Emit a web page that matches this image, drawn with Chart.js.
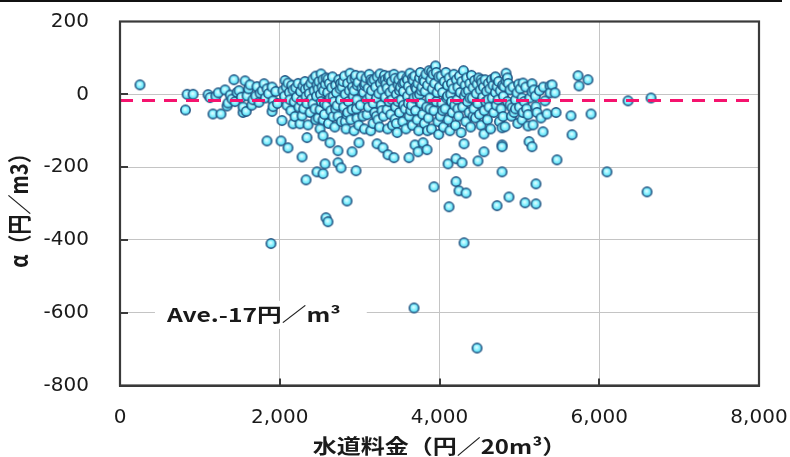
<!DOCTYPE html>
<html>
<head>
<meta charset="utf-8">
<script src="https://cdn.jsdelivr.net/npm/chart.js@4.4.1/dist/chart.umd.min.js"></script>
<style>
  html, body { margin: 0; padding: 0; background: #ffffff; }
  #wrap { position: relative; width: 790px; height: 457px; }
</style>
</head>
<body>
<div id="wrap"><canvas id="chart"></canvas></div>
<script>
// Water tariff (yen per 20 m3) vs. alpha (yen per m3), one pair per utility.
const feeUnder2000 = [
  [250,26],[820,-43],[840,0],[915,0],[1102,-1],[1127,-9],[1164,-54],[1200,-5],[1230,4],[1264,-54],
  [1315,12],[1340,-32],[1352,-24],[1380,-2],[1402,-13],[1427,40],[1440,-20],[1465,5],[1490,10],[1520,-8],
  [1540,-50],[1540,-35],[1565,37],[1580,-47],[1590,-4],[1610,15],[1628,26],[1650,-30],[1665,-15],[1700,-5],
  [1715,21],[1740,-22],[1753,3],[1780,10],[1803,29],[1820,-10],[1840,15],[1840,-128],[1860,2],[1890,-410],
  [1903,20],[1903,-47],[1916,-18],[1916,-34],[1950,8],[1970,-25]
];
const feeFrom2000 = [
  [2016,-128],[2028,-72],[2040,10],[2060,-5],[2066,38],[2080,20],[2090,-30],[2103,31],[2103,-147],[2120,5],
  [2128,-15],[2140,-45],[2150,25],[2166,12],[2166,-81],[2180,-20],[2191,-61],[2200,18],[2210,-8],[2230,30],
  [2240,-35],[2254,-81],[2260,8],[2270,-18],[2279,-59],[2279,-172],[2290,22],[2300,-40],[2316,35],[2320,14],
  [2329,-6],[2329,-235],[2340,-25],[2341,-119],[2354,-84],[2360,20],[2370,2],[2380,-50],[2390,30],[2400,-12],
  [2416,42],[2416,-26],[2430,10],[2440,-40],[2450,50],[2450,-70],[2460,-5],[2466,26],[2466,-213],[2480,-65],
  [2480,15],[2490,35],[2504,-42],[2504,-95],[2510,0],[2517,56],[2520,-20],[2529,20],[2540,40],[2542,-70],
  [2542,-114],[2542,-218],[2550,10],[2560,-55],[2560,-25],[2567,-191],[2570,28],[2579,-339],[2580,45],[2590,-30],
  [2600,5],[2604,-350],[2604,42],[2610,-80],[2620,30],[2629,-133],[2630,-10],[2640,-45],[2650,18],[2660,48],
  [2667,-61],[2667,-6],[2680,-20],[2690,-90],[2700,25],[2700,-40],[2710,5],[2717,-31],[2729,-155],[2729,-188],
  [2730,-60],[2740,40],[2755,15],[2760,-15],[2760,30],[2767,-202],[2770,-75],[2780,20],[2792,35],[2800,-35],
  [2810,50],[2820,0],[2820,-75],[2830,-95],[2842,-56],[2842,-293],[2850,30],[2850,-50],[2860,-20],[2870,10],
  [2880,58],[2890,-70],[2900,40],[2905,-42],[2905,-158],[2910,20],[2920,-5],[2930,-100],[2930,10],[2942,44],
  [2950,52],[2955,-210],[2960,-40],[2967,-15],[2967,-66],[2970,25],[2980,33],[2990,-85],[2992,-133]
];
const feeFrom3000 = [
  [3010,-30],[3020,50],[3030,17],[3040,-60],[3050,5],[3060,-95],[3060,25],[3070,30],[3080,45],[3093,-56],
  [3093,-15],[3105,17],[3110,-35],[3120,55],[3130,-5],[3140,-100],[3140,40],[3150,10],[3155,35],[3168,-80],
  [3170,-25],[3180,40],[3190,-50],[3200,20],[3210,-10],[3210,-60],[3218,-136],[3220,48],[3230,-70],[3240,2],
  [3250,-90],[3255,56],[3260,30],[3270,-30],[3280,12],[3280,-45],[3293,40],[3293,-147],[3300,-60],[3310,52],
  [3320,-8],[3320,40],[3330,28],[3343,17],[3343,-42],[3350,-95],[3355,-166],[3360,45],[3370,-20],[3370,50],
  [3380,5],[3390,-55],[3400,35],[3405,-15],[3410,-85],[3420,15],[3430,55],[3430,-174],[3443,-68],[3443,44],
  [3450,-35],[3460,0],[3460,-80],[3470,-105],[3480,-20],[3481,26],[3490,40],[3500,-50],[3500,10],[3510,20],
  [3520,-15],[3530,50],[3540,-75],[3540,30],[3550,8],[3550,-30],[3560,32],[3570,-40],[3580,-95],[3590,45],
  [3600,-5],[3600,40],[3610,22],[3610,-25],[3618,-174],[3620,-60],[3630,58],[3640,10],[3640,-45],[3650,-30],
  [3660,-85],[3660,45],[3670,38],[3680,-10],[3681,-587],[3690,50],[3693,-139],[3700,-45],[3700,20],[3710,15],
  [3720,-70],[3720,-5],[3730,30],[3731,-158],[3740,-100],[3750,0],[3750,45],[3760,60],[3770,-25],[3770,10],
  [3780,20],[3790,-55],[3794,-133],[3800,42],[3810,-80],[3810,35],[3820,8],[3830,55],[3840,-35],[3844,-152],
  [3850,25],[3850,-100],[3860,-65],[3870,65],[3880,-10],[3880,-40],[3890,40],[3900,-95],[3900,62],[3910,15],
  [3920,55],[3930,-45],[3931,-254],[3940,30],[3950,78],[3960,-20],[3960,60],[3970,5],[3980,-75],[3990,48],
  [3990,-110]
];
const feeFrom4000 = [
  [4000,20],[4010,-60],[4020,50],[4030,-25],[4040,5],[4040,-45],[4050,-90],[4060,35],[4070,-40],[4080,60],
  [4090,-10],[4100,25],[4100,-5],[4107,-191],[4110,-70],[4119,-309],[4120,45],[4130,-100],[4140,0],[4150,30],
  [4150,-20],[4160,-50],[4170,15],[4180,55],[4190,-30],[4200,-85],[4207,-177],[4207,-240],[4210,40],[4220,-15],
  [4230,20],[4230,-40],[4240,-60],[4244,-265],[4250,50],[4260,5],[4270,-105],[4280,35],[4282,-188],[4290,-35],
  [4300,65],[4307,-136],[4307,-408],[4310,-5],[4320,25],[4330,-75],[4330,5],[4332,-271],[4340,45],[4350,-20],
  [4360,10],[4370,-50],[4380,30],[4380,-10],[4390,-90],[4400,52],[4410,-10],[4420,18],[4420,-60],[4430,-40],
  [4440,38],[4450,-65],[4460,2],[4470,28],[4470,-697],[4480,-25],[4482,-183],[4490,45],[4500,-55],[4510,12],
  [4520,-85],[4520,40],[4530,32],[4540,-8],[4550,20],[4557,-109],[4557,-158],[4560,-45],[4570,40],[4580,-20],
  [4590,8],[4600,-70],[4610,30],[4610,-15],[4620,-35],[4630,15],[4640,-95],[4650,40],[4660,-10],[4670,25],
  [4680,-50],[4695,45],[4700,5],[4700,48],[4710,-30],[4720,21],[4720,-306],[4733,-15],[4740,35],[4750,-75],
  [4760,10],[4770,-40],[4783,-139],[4783,-144],[4783,-213],[4783,-92],[4790,25],[4795,-61],[4800,-5],[4808,21],
  [4820,-89],[4833,58],[4833,37],[4850,-20],[4850,45],[4860,30],[4870,-282],[4883,12],[4883,-29],[4900,-60],
  [4908,-37],[4920,20],[4933,-50],[4950,-15],[4950,-40],[4970,4],[4980,-80],[4990,28]
];
const feeFrom5000 = [
  [5000,-35],[5010,15],[5033,-70],[5033,-10],[5046,31],[5046,-50],[5060,-20],[5071,-298],[5080,20],[5090,-40],
  [5108,-87],[5108,-56],[5121,-130],[5130,-10],[5158,29],[5158,7],[5158,-144],[5171,-84],[5183,12],[5200,-5],
  [5208,-34],[5208,-246],[5208,-301],[5221,-50],[5250,10],[5270,-65],[5296,-103],[5300,20],[5321,-18],[5346,-54],
  [5384,23],[5384,4],[5409,26],[5446,4],[5459,-50],[5471,-180],[5646,-59],[5659,-111],[5734,51],[5747,23],
  [5859,40],[5897,-54],[6097,-213],[6360,-18],[6598,-268],[6648,-10]
];

const averageAlpha = -17;
const feeAxis = { min: 0, max: 8000, step: 2000 };
const alphaAxis = { min: -800, max: 200, step: 200 };
const xTitle = '水道料金（円／20m³）';
const yTitle = 'α（円／m3）';
const averageLabel = 'Ave.-17円／m³';
const averageLabelAt = [588, -606];

const points = [feeUnder2000, feeFrom2000, feeFrom3000, feeFrom4000, feeFrom5000]
  .flat().map(([x, y]) => ({ x, y }));

// Shaded marker: bright cyan disc with a navy rim
function makeMarker() {
  const c = document.createElement('canvas');
  c.width = 13; c.height = 13;
  const g = c.getContext('2d');
  const grad = g.createRadialGradient(6, 5.6, 0.5, 6.5, 6.5, 4.9);
  grad.addColorStop(0, '#dcfdff');
  grad.addColorStop(0.45, '#8ff2ff');
  grad.addColorStop(1, '#3fd3ef');
  g.beginPath();
  g.arc(6.5, 6.5, 4.7, 0, Math.PI * 2);
  g.fillStyle = grad;
  g.fill();
  g.lineWidth = 1.5;
  g.strokeStyle = '#1f4f7e';
  g.stroke();
  return c;
}

const INK = '#1a1a1a';
const FRAME = '#3a3a3a';

const decorations = {
  id: 'decorations',
  afterDatasetsDraw(chart) {
    const { ctx, chartArea: a, scales: { x, y } } = chart;
    ctx.save();
    // inward tick marks on the axes
    ctx.strokeStyle = FRAME;
    ctx.lineWidth = 2;
    for (let v = alphaAxis.min + alphaAxis.step; v < alphaAxis.max; v += alphaAxis.step) {
      const py = Math.round(y.getPixelForValue(v));
      ctx.beginPath(); ctx.moveTo(a.left, py); ctx.lineTo(a.left + 8, py); ctx.stroke();
    }
    for (let v = feeAxis.min + feeAxis.step; v < feeAxis.max; v += feeAxis.step) {
      const px = Math.round(x.getPixelForValue(v));
      ctx.beginPath(); ctx.moveTo(px, a.bottom); ctx.lineTo(px, a.bottom - 7); ctx.stroke();
    }
    // plot frame
    ctx.lineWidth = 2.2;
    ctx.strokeStyle = FRAME;
    ctx.strokeRect(a.left, a.top, a.right - a.left, a.bottom - a.top);

    // average annotation on a white box
    ctx.font = 'bold 19px "Noto Sans CJK JP"';
    const stretch = 1.3;
    const w = ctx.measureText(averageLabel).width * stretch;
    const lx = x.getPixelForValue(averageLabelAt[0]);
    const ly = y.getPixelForValue(averageLabelAt[1]);
    ctx.fillStyle = '#ffffff';
    ctx.fillRect(lx - 12, ly - 14, w + 38, 28);
    ctx.save();
    ctx.translate(lx, ly);
    ctx.scale(stretch, 1);
    ctx.fillStyle = INK;
    ctx.textAlign = 'left';
    ctx.textBaseline = 'middle';
    ctx.fillText(averageLabel, 0, 0);
    ctx.restore();
    ctx.restore();
  },
  afterDraw(chart) {
    const { ctx, chartArea: a, width } = chart;
    ctx.save();
    // rule across the top of the figure
    ctx.fillStyle = '#111111';
    ctx.fillRect(0, 0, width - 8, 2);
    // axis titles
    ctx.fillStyle = INK;
    ctx.textAlign = 'center';
    ctx.textBaseline = 'middle';
    ctx.font = 'bold 20px "Noto Sans CJK JP"';
    ctx.save();
    ctx.translate((a.left + a.right) / 2, 446);
    ctx.scale(1.2, 1);
    ctx.fillText(xTitle, 0, 0);
    ctx.restore();
    ctx.save();
    ctx.translate(19, (a.top + a.bottom) / 2 + 2);
    ctx.rotate(-Math.PI / 2);
    ctx.scale(1, 1.2);
    ctx.fillText(yTitle, 0, 0);
    ctx.restore();
    ctx.restore();
  }
};

const tickFont = { family: '"DejaVu Sans"', size: 20 };

new Chart(document.getElementById('chart'), {
  type: 'scatter',
  data: {
    datasets: [
      {
        label: 'alpha',
        data: points,
        order: 1,
        pointStyle: makeMarker(),
        pointRadius: 5,
        pointHoverRadius: 5
      },
      {
        label: 'average',
        type: 'line',
        data: [{ x: feeAxis.min, y: averageAlpha }, { x: feeAxis.max, y: averageAlpha }],
        order: 0,
        showLine: true,
        borderColor: '#f5136e',
        borderWidth: 3,
        borderDash: [13, 9],
        pointRadius: 0,
        fill: false
      }
    ]
  },
  options: {
    responsive: true,
    maintainAspectRatio: false,
    animation: false,
    layout: { padding: { top: 21.5, right: 31, left: 0, bottom: 0 } },
    plugins: { legend: { display: false }, tooltip: { enabled: false } },
    scales: {
      x: {
        type: 'linear',
        min: feeAxis.min, max: feeAxis.max,
        afterFit(s) { s.height = 71.5; s.paddingLeft = 0; s.paddingRight = 0; },
        ticks: {
          stepSize: feeAxis.step,
          padding: 20,
          color: INK,
          font: tickFont,
          maxRotation: 0,
          callback: v => v.toLocaleString('en-US')
        },
        grid: { color: '#c4c4c4', lineWidth: 1, drawTicks: false },
        border: { display: true, color: FRAME, width: 2 }
      },
      y: {
        type: 'linear',
        min: alphaAxis.min, max: alphaAxis.max,
        afterFit(s) { s.width = 120; s.paddingTop = 0; s.paddingBottom = 0; },
        ticks: {
          stepSize: alphaAxis.step,
          padding: 31,
          color: INK,
          font: tickFont
        },
        grid: { color: '#c4c4c4', lineWidth: 1, drawTicks: false },
        border: { display: true, color: FRAME, width: 2 }
      }
    }
  },
  plugins: [decorations]
});
</script>
</body>
</html>
